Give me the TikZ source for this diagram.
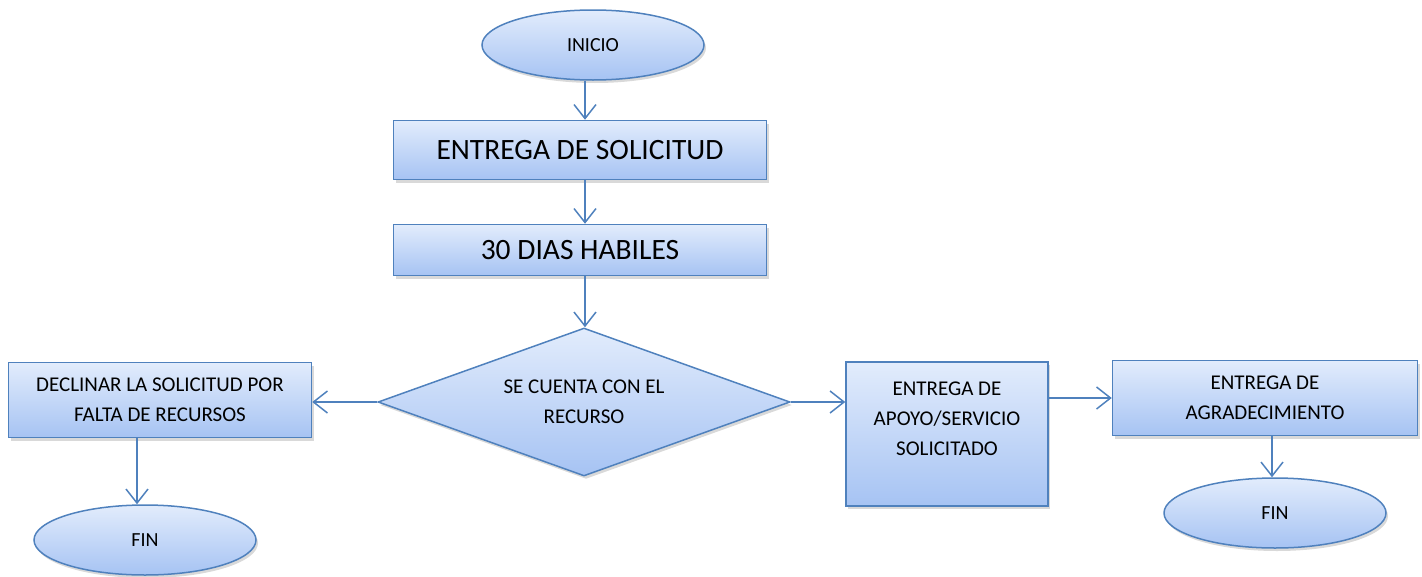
\documentclass[tikz,border=0pt]{standalone}
\usepackage{fontspec}
\setmainfont{Carlito}
\usetikzlibrary{shapes.geometric}
\usetikzlibrary{arrows.meta}
\usetikzlibrary{shadows}

\definecolor{bordeazul}{HTML}{4F81BD}
\definecolor{azulclaro}{HTML}{E2ECFC}
\definecolor{azulfondo}{HTML}{A6C3F3}

\tikzset{
  caja/.style={draw=bordeazul, line width=1.5pt, top color=azulclaro, bottom color=azulfondo,
    drop shadow={opacity=0.3, shadow xshift=2pt, shadow yshift=-3pt},
    inner sep=0pt, align=center, font=\fontsize{21}{30}\selectfont},
  grande/.style={caja, minimum width=373pt, font=\fontsize{29.5}{34}\selectfont},
  ovalo/.style={caja, ellipse, minimum width=222pt, minimum height=70pt, font=\fontsize{20}{30}\selectfont},
  rombo/.style={caja, diamond, aspect=2.78, minimum width=412pt, minimum height=148pt},
  flecha/.style={draw=bordeazul, line width=1.5pt, -{Straight Barb[length=14pt,width=22pt]}}
}

\begin{document}
\begin{tikzpicture}[x=1pt, y=-1pt]
        \useasboundingbox (0,0) rectangle (1422,576);

        % Central column: start, request, waiting time, decision
        \node[ovalo] (inicio) at (593,45) {INICIO};
        \node[grande, minimum height=59pt] (entrega) at (580,150) {ENTREGA DE SOLICITUD};
        \node[grande, minimum height=51pt] (dias) at (580,250) {30 DIAS HABILES};
        \node[rombo] (recurso) at (584,402) {SE CUENTA CON EL\\RECURSO};

        % Left branch: no resources
        \node[caja, minimum width=303pt, minimum height=75pt] (declinar) at (160,400) {DECLINAR LA SOLICITUD POR\\FALTA DE RECURSOS};
        \node[ovalo] (finizq) at (145,540) {FIN};

        % Right branch: support delivered
        \node[caja, minimum width=202pt, minimum height=144pt] (apoyo) at (947,434) {ENTREGA DE\\APOYO/SERVICIO\\SOLICITADO\\ \mbox{}};
        \node[caja, minimum width=305pt, minimum height=75pt] (agradece) at (1265,398) {ENTREGA DE\\AGRADECIMIENTO};
        \node[ovalo] (finder) at (1275,513) {FIN};

        % Connectors
        \coordinate (eje) at (585,0);
        \draw[flecha] (inicio.south -| eje) -- (entrega.north -| eje);
        \draw[flecha] (entrega.south -| eje) -- (dias.north -| eje);
        \draw[flecha] (dias.south -| eje) -- (recurso.north -| eje);
        \draw[flecha] (recurso.west) -- (recurso.west -| declinar.east);
        \draw[flecha] ([xshift=-8pt]finizq.north |- declinar.south) -- ([xshift=-8pt]finizq.north);
        \draw[flecha] (recurso.east) -- (recurso.east -| apoyo.west);
        \draw[flecha] (apoyo.east |- agradece.west) -- (agradece.west);
        \draw[flecha] ([xshift=-3pt]finder.north |- agradece.south) -- ([xshift=-3pt]finder.north);
    \end{tikzpicture}
\end{document}
